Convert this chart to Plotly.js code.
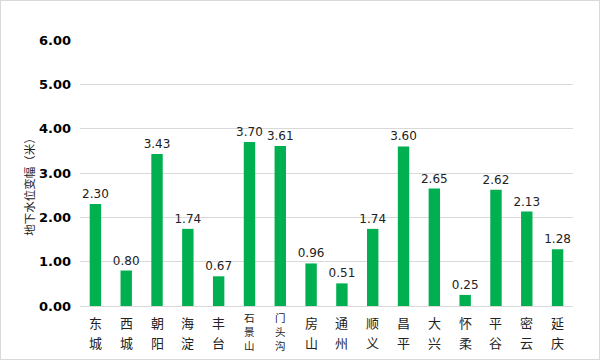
<!DOCTYPE html>
<html><head><meta charset="utf-8">
<script src="https://cdn.plot.ly/plotly-3.0.1.min.js"></script>
<style>body{margin:0;padding:0;background:#fff}#chart{width:598px;height:358px;border:1px solid #d9d9d9}</style>
</head><body><div id="chart"></div>
<script>
const districts = ["东城","西城","朝阳","海淀","丰台","石景山","门头沟","房山","通州","顺义","昌平","大兴","怀柔","平谷","密云","延庆"];
const changes = [2.30,0.80,3.43,1.74,0.67,3.70,3.61,0.96,0.51,1.74,3.60,2.65,0.25,2.62,2.13,1.28];
const yTicks = [0,1,2,3,4,5,6];
const yTitle = "地下水位变幅（米）";

const font = "DejaVu Sans, Noto Sans CJK SC, sans-serif";
const cjk = "Noto Sans CJK SC, DejaVu Sans, sans-serif";

const annotations = [];
districts.forEach(d => {
  const chars = d.split("");
  const long = chars.length > 2;
  const step = long ? 14 : 20;
  const first = long ? 11 : 16;
  chars.forEach((c, i) => {
    annotations.push({
      x: d, y: 0, xref: "x", yref: "y",
      text: c, showarrow: false, xanchor: "center", yanchor: "middle",
      yshift: -(first + i * step),
      font: {family: cjk, size: long ? 10.5 : 13, color: "#222"}
    });
  });
});

annotations.push({
  xref: "paper", yref: "paper", x: 0, y: 0.46, xshift: -51,
  text: yTitle, textangle: -90, showarrow: false,
  xanchor: "center", yanchor: "middle",
  font: {family: cjk, size: 11.5, color: "#222"}
});

Plotly.newPlot("chart", [{
  type: "bar",
  x: districts,
  y: changes,
  marker: {color: "#00b050"},
  width: 0.37,
  text: changes.map(v => v.toFixed(2)),
  textposition: "outside",
  constraintext: "none",
  cliponaxis: false,
  textfont: {family: font, size: 12, color: "#222"},
  hoverinfo: "none"
}], {
  width: 598, height: 358,
  margin: {l: 79, r: 26, t: 39, b: 53},
  paper_bgcolor: "#fff", plot_bgcolor: "#fff",
  showlegend: false,
  annotations: annotations,
  xaxis: {
    type: "category", showticklabels: false,
    showgrid: false, zeroline: false, showline: false, ticks: ""
  },
  yaxis: {
    range: [0, 6], tickvals: yTicks, ticktext: yTicks.map(v => "<b>" + v.toFixed(2) + "</b>"),
    tickfont: {family: font, size: 13, color: "#000"},
    gridcolor: "#d9d9d9", gridwidth: 1, zeroline: true, zerolinecolor: "#d9d9d9", zerolinewidth: 1,
    showline: false, ticks: "", ticklabelstandoff: 8
  }
}, {displayModeBar: false, staticPlot: true});
</script></body></html>
